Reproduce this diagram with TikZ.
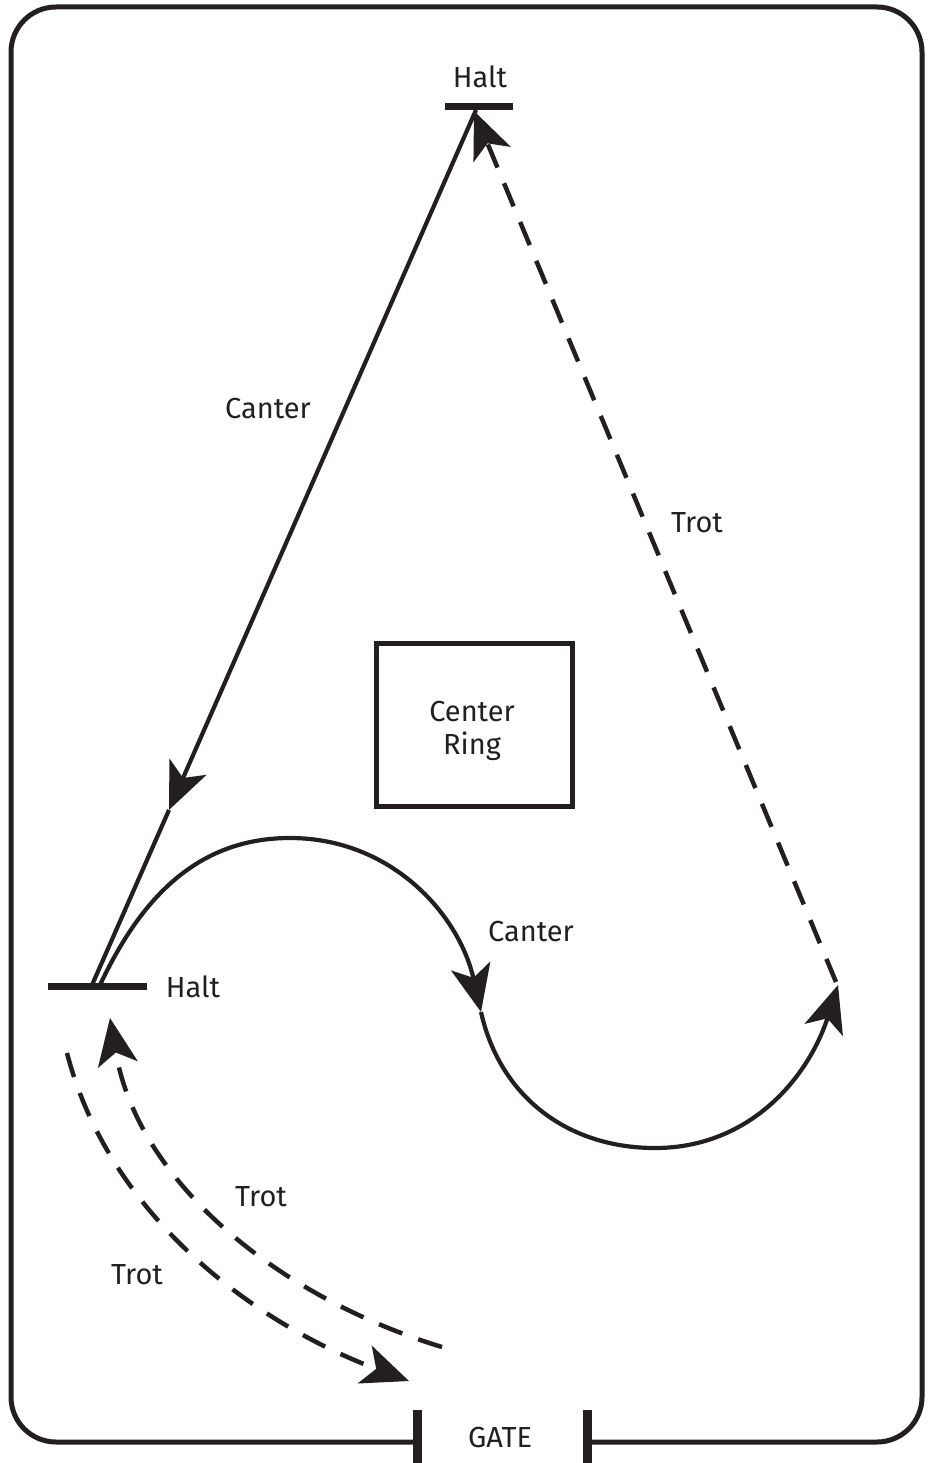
\documentclass[tikz,border=0pt]{standalone}
\usepackage{fontspec}
\setmainfont{Fira Sans}
\usetikzlibrary{arrows.meta}
\definecolor{ink}{RGB}{35,31,32}
\begin{document}
\begin{tikzpicture}[x=1pt,y=-1pt,
  lbl/.style={font=\fontsize{29}{33}\selectfont, anchor=base, inner sep=0pt, text=ink},
  arrowhd/.style={-{Stealth[length=47pt,width=40pt,inset=12pt]}},
  route/.style={draw=ink, line width=4.2pt},
  dashroute/.style={draw=ink, line width=4.5pt, dash pattern=on 25pt off 17pt},
  haltbar/.style={draw=ink, line width=7pt},
  gatepost/.style={draw=ink, line width=9pt},
  fence/.style={draw=ink, line width=5pt, rounded corners=45pt},
  ringbox/.style={draw=ink, line width=5pt, minimum width=196pt, minimum height=163pt}]
\useasboundingbox (0,0) rectangle (927,1463);

% fence and gate
\coordinate (gl) at (417,1442);
\coordinate (gr) at (587,1442);
\draw[fence] (gl) -- (11,1442) -- (11,7) -- (922,7) -- (922,1442) -- (gr);
\coordinate (glt) at (417,1410);
\coordinate (glb) at (417,1463);
\coordinate (grt) at (587,1410);
\coordinate (grb) at (587,1463);
\draw[gatepost] (glt) -- (glb);
\draw[gatepost] (grt) -- (grb);
\node[lbl] (gate) at (500,1447) {GATE};

% halt markers
\coordinate (htl) at (445,107);
\coordinate (htr) at (513,107);
\draw[haltbar] (htl) -- (htr);
\node[lbl] (halttop) at (480,88) {Halt};
\coordinate (hbl) at (48,986);
\coordinate (hbr) at (147,986);
\draw[haltbar] (hbl) -- (hbr);
\node[lbl] (haltbot) at (193,997) {Halt};

% center ring
\node[ringbox] (ring) at (474,724.5) {};
\node[lbl, anchor=center, align=center] (ringtext) at (472,731) {Center\\Ring};

% canter straight line
\coordinate (htop) at (476,110);
\coordinate (hbot) at (92,985);
\coordinate (ctip) at (169,810);
\draw[route, arrowhd] (htop) -- (ctip);
\draw[route] (ctip) -- (hbot);
\node[lbl] (canter1) at (268,418) {Canter};

% canter S-curve
\coordinate (s0) at (100,985);
\coordinate (stop) at (290,838);
\coordinate (smid) at (481,1012);
\coordinate (sbot) at (655,1148);
\coordinate (send) at (838,985);
\draw[route, arrowhd] (s0) .. controls (140,900) and (196,838) .. (stop)
  .. controls (391,838) and (459,914) .. (smid);
\draw[route, arrowhd] (smid) .. controls (500,1097) and (568,1148) .. (sbot)
  .. controls (751,1148) and (809,1076) .. (send);
\node[lbl] (canter2) at (531,941) {Canter};

% trot back to top halt
\coordinate (tstart) at (836,982);
\coordinate (ttip) at (474,111);
\draw[dashroute, arrowhd] (tstart) -- (ttip);
\node[lbl] (trot1) at (697,532) {Trot};

% trot arcs near gate
\coordinate (g1) at (442,1347);
\coordinate (h1) at (110,1018);
\draw[dashroute, arrowhd] (g1) .. controls (281,1298) and (138,1184) .. (h1);
\node[lbl] (trot2) at (261,1206) {Trot};
\coordinate (o1) at (67,1053);
\coordinate (o2) at (409,1381);
\draw[dashroute, arrowhd] (o1) .. controls (109,1215) and (253,1323) .. (o2);
\node[lbl] (trot3) at (137,1284) {Trot};
\end{tikzpicture}
\end{document}
